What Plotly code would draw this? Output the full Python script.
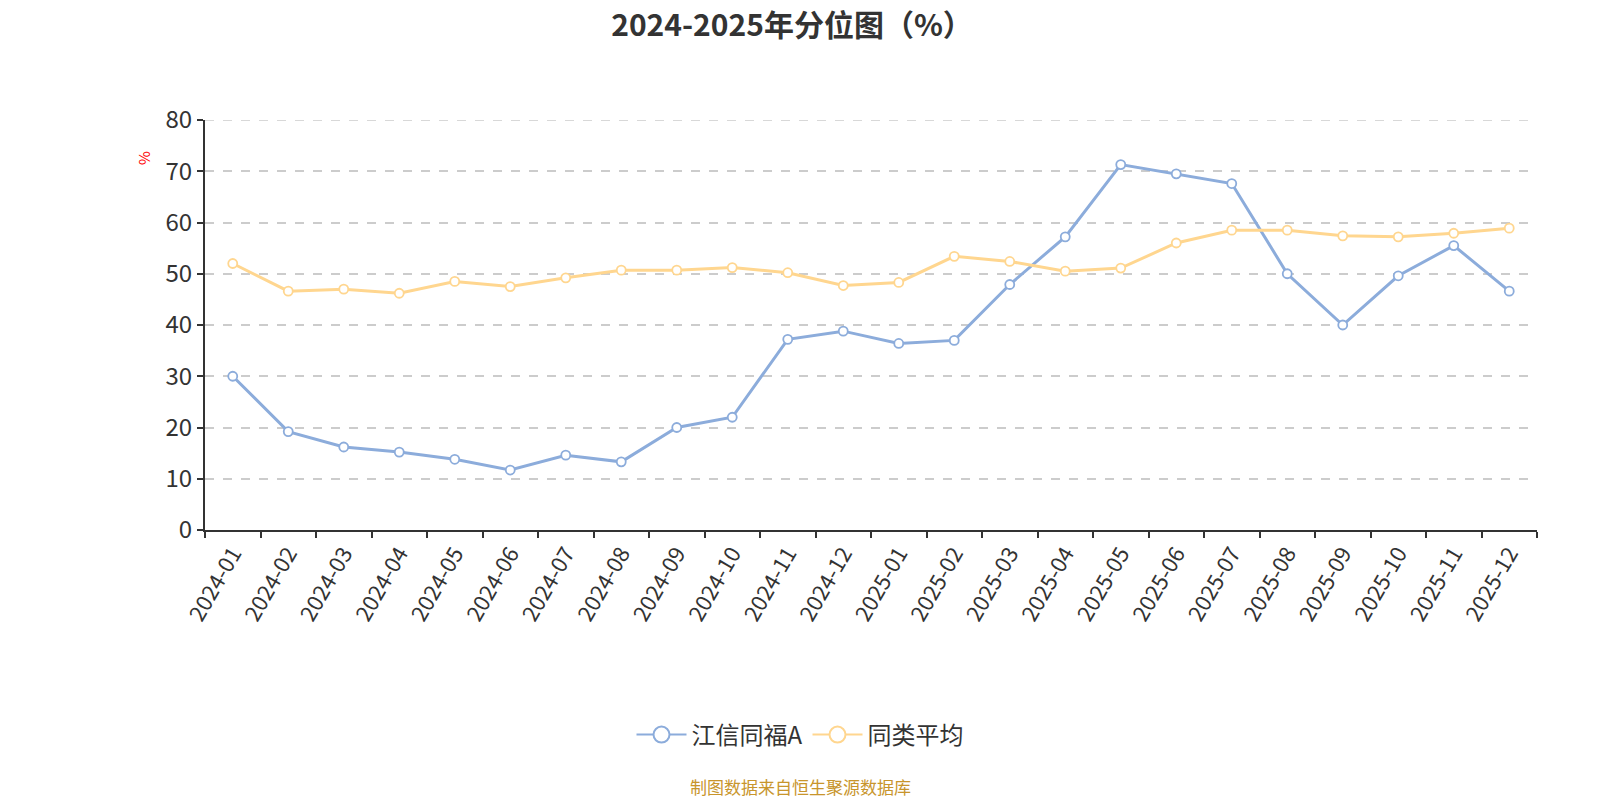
import plotly.graph_objects as go

months = ["2024-01","2024-02","2024-03","2024-04","2024-05","2024-06","2024-07","2024-08",
          "2024-09","2024-10","2024-11","2024-12","2025-01","2025-02","2025-03","2025-04",
          "2025-05","2025-06","2025-07","2025-08","2025-09","2025-10","2025-11","2025-12"]
fund_vals = [30.0, 19.2, 16.2, 15.2, 13.8, 11.7, 14.6, 13.3, 20.0, 22.0, 37.2, 38.8,
             36.4, 37.0, 47.9, 57.2, 71.3, 69.5, 67.6, 50.0, 40.0, 49.6, 55.5, 46.6]
peer_vals = [52.0, 46.6, 47.0, 46.2, 48.5, 47.5, 49.2, 50.7, 50.7, 51.2, 50.2, 47.7,
             48.3, 53.4, 52.4, 50.5, 51.1, 56.0, 58.5, 58.5, 57.4, 57.2, 57.9, 58.9]
series_names = ["江信同福A", "同类平均"]
colors = ["#8CACDB", "#FFD68F"]

FONT = "Noto Sans CJK SC, Open Sans, sans-serif"

fig = go.Figure()
for name, vals, c in zip(series_names, [fund_vals, peer_vals], colors):
    fig.add_trace(go.Scatter(
        x=months, y=vals, name=name, mode="lines+markers", showlegend=False,
        line=dict(color=c, width=3),
        marker=dict(symbol="circle", size=9, color="white", line=dict(color=c, width=1.8)),
    ))
# legend-only entries with larger symbols
for name, c in zip(series_names, colors):
    fig.add_trace(go.Scatter(
        x=[None], y=[None], name=name, mode="lines+markers",
        line=dict(color=c, width=2),
        marker=dict(symbol="circle", size=16, color="white", line=dict(color=c, width=2)),
    ))

L, R, T, B = 205, 63, 120, 270
PW, PH = 1600 - L - R, 800 - T - B

fig.update_layout(
    width=1600, height=800,
    paper_bgcolor="white", plot_bgcolor="white",
    margin=dict(l=L, r=R, t=T, b=B),
    title=dict(text="<b>2024-2025年分位图（%）</b>", x=0.495, xanchor="center",
               y=1 - 25/800, yanchor="middle", yref="container",
               font=dict(family=FONT, size=30, color="#333333")),
    font=dict(family=FONT, color="#333333"),
    showlegend=True,
    legend=dict(orientation="h", x=0.5, xanchor="center", xref="container",
                y=1 - 735/800, yanchor="middle",
                yref="container", font=dict(family=FONT, size=24, color="#333333"),
                traceorder="normal", itemwidth=50),
    xaxis=dict(type="category", range=[-0.5, 23.5], tickangle=-60, tickson="boundaries",
               ticks="outside", ticklen=6, tickwidth=2, tickcolor="#333333",
               showline=True, linecolor="#333333", linewidth=2, showgrid=False,
               tickfont=dict(family=FONT, size=22, color="#333333"), zeroline=False),
    yaxis=dict(range=[0, 80], dtick=10, ticks="outside", ticklen=6, tickwidth=2,
               tickcolor="#333333", showline=True, linecolor="#333333", linewidth=2,
               showgrid=True, gridcolor="#cccccc", griddash="dash", gridwidth=1.5,
               zeroline=False, tickfont=dict(family=FONT, size=24, color="#333333")),
    shapes=[dict(type="line", xref="paper", x0=0, x1=1, yref="y", y0=80, y1=80,
                 line=dict(color="#cccccc", width=1.5, dash="dash"), layer="below")],
    annotations=[
        dict(text="%", x=(143 - L) / PW, y=(800 - B - 158) / PH, xref="paper", yref="paper",
             showarrow=False, textangle=-90, font=dict(family=FONT, size=15, color="red"),
             xanchor="center", yanchor="middle"),
        dict(text="制图数据来自恒生聚源数据库", x=(800 - L) / PW, xref="paper",
             y=(800 - B - 786) / PH, yref="paper", showarrow=False,
             font=dict(family=FONT, size=17, color="#C8952C"),
             xanchor="center", yanchor="middle"),
    ],
)

fig.write_html("out.html")
